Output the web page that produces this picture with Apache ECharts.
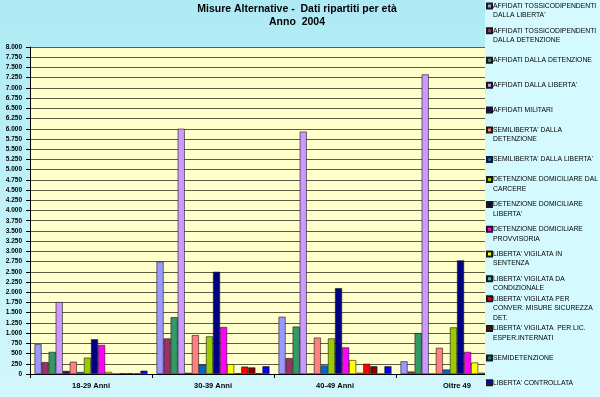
<!DOCTYPE html>
<html><head><meta charset="utf-8">
<script src="https://cdn.jsdelivr.net/npm/echarts@6/dist/echarts.min.js"></script>
<style>html,body{margin:0;padding:0;background:#fff}#c{width:600px;height:397px}</style>
</head><body><div id="c"></div>
<script>
const categories = ['18-29 Anni', '30-39 Anni', '40-49 Anni', 'Oltre 49'];

const seriesNames = [
  "AFFIDATI TOSSICODIPENDENTI DALLA LIBERTA'",
  "AFFIDATI TOSSICODIPENDENTI DALLA DETENZIONE",
  "AFFIDATI DALLA DETENZIONE",
  "AFFIDATI DALLA LIBERTA'",
  "AFFIDATI MILITARI",
  "SEMILIBERTA' DALLA DETENZIONE",
  "SEMILIBERTA' DALLA LIBERTA'",
  "DETENZIONE DOMICILIARE DAL CARCERE",
  "DETENZIONE DOMICILIARE LIBERTA'",
  "DETENZIONE DOMICILIARE PROVVISORIA",
  "LIBERTA' VIGILATA IN SENTENZA",
  "LIBERTA' VIGILATA DA CONDIZIONALE",
  "LIBERTA' VIGILATA PER CONVER. MISURE SICUREZZA DET.",
  "LIBERTA' VIGILATA  PER LIC. ESPER.INTERNATI",
  "SEMIDETENZIONE",
  "LIBERTA' CONTROLLATA"
];

const legendLabels = [
  "AFFIDATI TOSSICODIPENDENTI\nDALLA LIBERTA'",
  "AFFIDATI TOSSICODIPENDENTI\nDALLA DETENZIONE",
  "AFFIDATI DALLA DETENZIONE",
  "AFFIDATI DALLA LIBERTA'",
  "AFFIDATI MILITARI",
  "SEMILIBERTA' DALLA\nDETENZIONE",
  "SEMILIBERTA' DALLA LIBERTA'",
  "DETENZIONE DOMICILIARE DAL\nCARCERE",
  "DETENZIONE DOMICILIARE\nLIBERTA'",
  "DETENZIONE DOMICILIARE\nPROVVISORIA",
  "LIBERTA' VIGILATA IN\nSENTENZA",
  "LIBERTA' VIGILATA DA\nCONDIZIONALE",
  "LIBERTA' VIGILATA PER\nCONVER. MISURE SICUREZZA\nDET.",
  "LIBERTA' VIGILATA  PER LIC.\nESPER.INTERNATI",
  "SEMIDETENZIONE",
  "LIBERTA' CONTROLLATA"
];

const seriesColors = [
  '#9999FF', '#993366', '#339966', '#CC99FF', '#330066', '#FF8080', '#0066CC', '#99CC00',
  '#000080', '#FF00FF', '#FFFF00', '#33CCCC', '#FF0000', '#800000', '#008080', '#0000FF'
];

// values per age group, in series order
const v1829  = [730, 290, 540, 1760, 75, 300, 50, 400, 850, 710, 50, 5, 20, 20, 15, 80];
const v3039  = [2750, 870, 1390, 6000, 30, 950, 230, 920, 2500, 1150, 240, 20, 180, 160, 20, 190];
const v4049  = [1400, 390, 1160, 5930, 10, 890, 210, 870, 2100, 650, 340, 30, 250, 190, 5, 190];
const vOltre = [310, 60, 1000, 7330, 5, 640, 110, 1140, 2780, 540, 280, 30, 150, 80, 10, 120];

const yMin = 0, yMax = 8000, yStep = 250;

const groups = [v1829, v3039, v4049, vOltre];
const FONT = "'Liberation Sans', Arial, sans-serif";

function fmtThousands(v) {
  return String(v).replace(/\B(?=(\d{3})+(?!\d))/g, '.');
}

const ICON_H = 28.5;
function iconFor(label) {
  const lines = label.split('\n').length;
  const c = lines === 1 ? 14.25 : (lines === 2 ? 9.5 : 4.75);
  return 'path://M0,0L0,0M0,' + (c - 2.5) + 'h5v5h-5zM0,' + ICON_H + 'L0,' + ICON_H;
}

const series = seriesNames.map((name, i) => ({
  name: name,
  type: 'bar',
  data: groups.map(g => g[i]),
  barGap: '0%',
  barCategoryGap: '7.4%',
  itemStyle: { color: seriesColors[i], borderColor: '#1a1a1a', borderWidth: 0.6 },
  emphasis: { disabled: true }
}));

const chart = echarts.init(document.getElementById('c'), null, { renderer: 'canvas' });
chart.setOption({
  animation: false,
  backgroundColor: {
    type: 'linear', x: 0, y: 0, x2: 0, y2: 1,
    colorStops: [{ offset: 0, color: '#AEEAF4' }, { offset: 1, color: '#D2F7FC' }]
  },
  title: {
    text: 'Misure Alternative -  Dati ripartiti per età\nAnno  2004',
    left: 297, top: 3, padding: 0,
    textAlign: 'center',
    textStyle: { fontFamily: FONT, fontSize: 10.5, fontWeight: 'bold', color: '#000', lineHeight: 12.5 }
  },
  legend: {
    orient: 'vertical',
    left: 485, top: -10, height: 600,
    padding: [5.5, 20, 8, 1],
    backgroundColor: '#D4FAFF',
    itemWidth: 5, itemHeight: ICON_H,
    itemGap: -5.7,
    symbolKeepAspect: false,
    selectedMode: false,
    data: seriesNames.map((n, i) => ({ name: n, icon: iconFor(legendLabels[i]) })),
    formatter: name => legendLabels[seriesNames.indexOf(name)],
    textStyle: { fontFamily: FONT, fontSize: 6.8, lineHeight: 9.5, color: '#000', padding: [0, 0, 0, -4] }
  },
  grid: {
    left: 30, right: 82, top: 47, bottom: 23,
    show: true, backgroundColor: '#FFFFCC', borderWidth: 0,
    outerBoundsMode: 'none', containLabel: false
  },
  xAxis: {
    type: 'category',
    data: categories,
    axisLine: { show: true, lineStyle: { color: '#000', width: 1 } },
    axisTick: { show: true, interval: 0, length: 4, alignWithLabel: false, lineStyle: { color: '#000' } },
    axisLabel: { interval: 0, margin: 8, fontFamily: FONT, fontSize: 7.5, fontWeight: 'bold', color: '#000' },
    splitLine: { show: false }
  },
  yAxis: {
    type: 'value',
    min: yMin, max: yMax, interval: yStep,
    axisLine: { show: true, lineStyle: { color: '#000', width: 1 } },
    axisTick: { show: true, length: 4, lineStyle: { color: '#000' } },
    axisLabel: { margin: 8, fontFamily: FONT, fontSize: 6.5, fontWeight: 'bold', color: '#000', formatter: v => fmtThousands(v) },
    splitLine: { show: true, lineStyle: { color: '#5c5c44', width: 1 } }
  },
  series: series
});
</script>
</body></html>
